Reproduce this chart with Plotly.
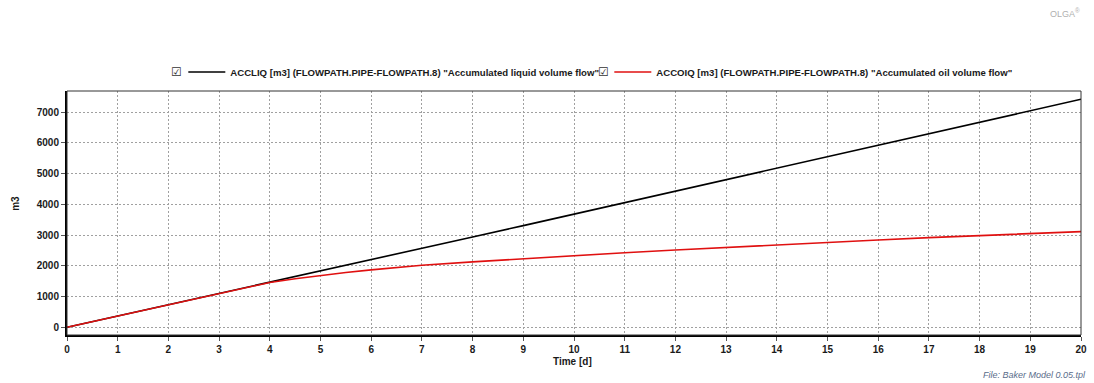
import plotly.graph_objects as go

# ---- data ----
days_liq = [0, 1, 2, 3, 4, 5, 6, 7, 8, 9, 10, 11, 12, 13, 14, 15, 16, 17, 18, 19, 20]
acc_liquid = [0, 365, 730, 1090, 1460, 1835, 2205, 2570, 2940, 3310, 3685,
              4060, 4430, 4800, 5175, 5545, 5920, 6296, 6670, 7045, 7420]

days_oil = [0, 1, 2, 3, 4, 4.5, 5, 5.5, 6, 6.5, 7, 8, 9, 10, 11, 12, 13, 14,
            15, 16, 17, 18, 19, 20]
acc_oil = [0, 365, 730, 1090, 1460, 1580, 1690, 1785, 1870, 1948, 2020, 2130,
           2235, 2335, 2428, 2515, 2603, 2690, 2767, 2843, 2920, 2985, 3050, 3114]

x_ticks = list(range(0, 21))
y_ticks = [0, 1000, 2000, 3000, 4000, 5000, 6000, 7000]

name_liq = 'ACCLIQ [m3] (FLOWPATH.PIPE-FLOWPATH.8) "Accumulated liquid volume flow"'
name_oil = 'ACCOIQ [m3] (FLOWPATH.PIPE-FLOWPATH.8) "Accumulated oil volume flow"'

FONT = "Liberation Sans, Arial, sans-serif"
W, H = 1094, 383
ML, MR, MT, MB = 67, 7, 91, 48
PW, PH = W - ML - MR, H - MT - MB


def px(x):
    return (x - ML) / PW


def py(y):
    return (H - MB - y) / PH


fig = go.Figure()
fig.add_trace(go.Scatter(x=days_liq, y=acc_liquid, mode="lines", name=name_liq,
                         line=dict(color="#000000", width=1.6)))
fig.add_trace(go.Scatter(x=days_oil, y=acc_oil, mode="lines", name=name_oil,
                         line=dict(color="#e01010", width=1.6)))

axis_common = dict(
    showgrid=True, gridcolor="#a0a0a0", gridwidth=1, griddash="2px,2px",
    zeroline=False, showline=True, linecolor="#000000", linewidth=2,
    ticks="outside", ticklen=4, tickcolor="#555555", tickwidth=1,
    tickfont=dict(family=FONT, size=10, color="#1a1a1a", weight="bold"),
)

fig.update_xaxes(range=[0, 20], tickvals=x_ticks, **axis_common)
fig.update_yaxes(range=[-250, 7690], tickvals=y_ticks, **axis_common)

annotations = [
    dict(text="m3", x=px(14.5), y=py(203), xref="paper", yref="paper",
         textangle=-90, showarrow=False, xanchor="center", yanchor="middle",
         font=dict(family=FONT, size=10, color="#1a1a1a", weight="bold")),
    dict(text="Time [d]", x=px(575), y=py(361), xref="paper", yref="paper",
         showarrow=False, xanchor="center", yanchor="middle",
         font=dict(family=FONT, size=10, color="#1a1a1a", weight="bold")),
    dict(text="<i>File: Baker Model 0.05.tpl</i>", x=px(1094), y=py(375),
         xref="paper", yref="paper", showarrow=False, xanchor="right",
         yanchor="middle", font=dict(family=FONT, size=9, color="#5a6d8a")),
    dict(text="OLGA<sup>®</sup>", x=px(1088), y=py(13), xref="paper", yref="paper",
         showarrow=False, xanchor="right", yanchor="middle",
         font=dict(family=FONT, size=9, color="#b0b0b0")),
    dict(text="☑", x=px(177), y=py(72), xref="paper", yref="paper",
         showarrow=False, xanchor="center", yanchor="middle",
         font=dict(family="DejaVu Sans", size=12, color="#333333")),
    dict(text="☑", x=px(607), y=py(72), xref="paper", yref="paper",
         showarrow=False, xanchor="center", yanchor="middle",
         font=dict(family="DejaVu Sans", size=12, color="#333333")),
]

fig.update_layout(
    width=W, height=H,
    margin=dict(l=ML, r=MR, t=MT, b=MB, pad=0),
    paper_bgcolor="white", plot_bgcolor="white",
    showlegend=True,
    legend=dict(orientation="h", x=px(184), y=py(72), xanchor="left",
                yanchor="middle", font=dict(family=FONT, size=9.6,
                                            color="#1a1a1a", weight="bold"),
                bgcolor="rgba(0,0,0,0)", borderwidth=0, itemwidth=37,
                entrywidth=374, tracegroupgap=0),
    annotations=annotations,
    shapes=[dict(type="rect", xref="paper", yref="paper", x0=0, y0=0, x1=1, y1=1,
                 line=dict(color="#333333", width=1), layer="above")],
    font=dict(family=FONT),
)

fig.write_html("out.html")
